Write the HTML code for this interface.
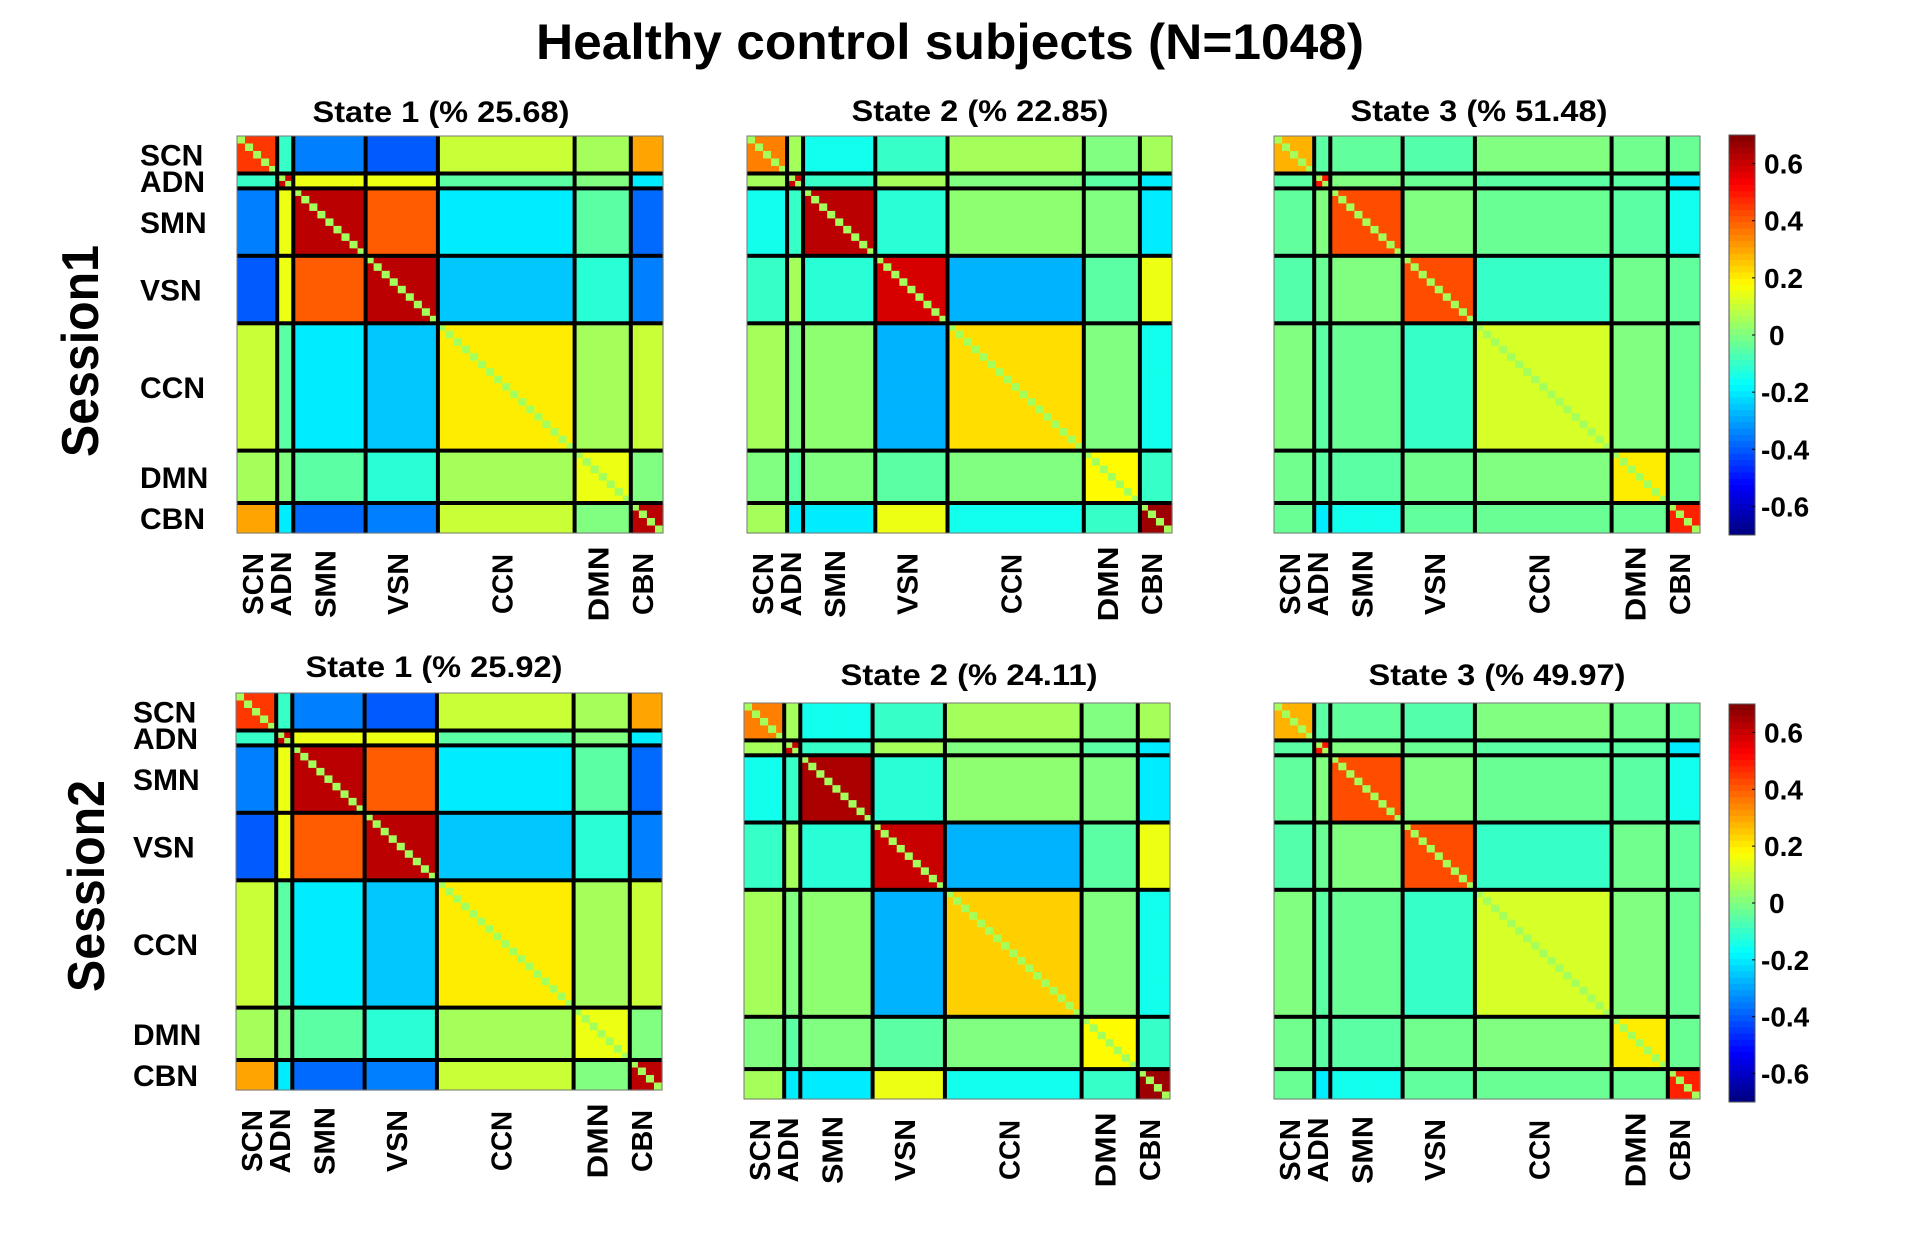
<!DOCTYPE html>
<html><head><meta charset="utf-8"><style>
html,body{margin:0;padding:0;background:#fff;}
svg{display:block;}
text{font-family:"Liberation Sans",sans-serif;font-weight:bold;fill:#000;}
</style></head><body>
<svg id="fig" width="1920" height="1248" viewBox="0 0 1920 1248" xmlns="http://www.w3.org/2000/svg">
<text x="950" y="59" font-size="50" text-anchor="middle" textLength="828" lengthAdjust="spacingAndGlyphs">Healthy control subjects (N=1048)</text>
<text transform="translate(98,351) rotate(-90)" font-size="52" text-anchor="middle" textLength="212" lengthAdjust="spacingAndGlyphs">Session1</text>
<text transform="translate(104,886) rotate(-90)" font-size="52" text-anchor="middle" textLength="212" lengthAdjust="spacingAndGlyphs">Session2</text>
</svg>
<script>
// ---- data ----
const networks = ["SCN","ADN","SMN","VSN","CCN","DMN","CBN"];
const networkSizes = [5,2,9,9,17,7,4];
const panelTitles = ["State 1 (% 25.68)","State 2 (% 22.85)","State 3 (% 51.48)","State 1 (% 25.92)","State 2 (% 24.11)","State 3 (% 49.97)"];
const colorbarTicks = [0.6,0.4,0.2,0,-0.2,-0.4,-0.6];
const colorRange = [-0.7,0.7];
// block-mean connectivity, upper triangle row-wise (SCN..CBN)
const s1State1 = [0.45,-0.1,-0.35,-0.4,0.1,0.05,0.3, 0.6,0.15,0.15,-0.05,0.0,-0.2, 0.62,0.4,-0.2,-0.05,-0.38, 0.62,-0.25,-0.12,-0.35, 0.2,0.05,0.1, 0.15,0.0, 0.62];
const s1State2 = [0.35,0.05,-0.15,-0.1,0.05,0.0,0.05, 0.6,-0.1,0.05,0.0,-0.05,-0.2, 0.62,-0.12,0.02,0.0,-0.2, 0.58,-0.28,-0.05,0.15, 0.22,0.0,-0.15, 0.18,-0.1, 0.66];
const s1State3 = [0.28,-0.05,-0.04,-0.06,0.0,-0.02,-0.03, 0.5,0.0,-0.03,-0.05,-0.05,-0.2, 0.42,0.0,-0.03,-0.05,-0.15, 0.42,-0.1,-0.02,-0.04, 0.12,0.0,-0.03, 0.2,-0.03, 0.48];
const s2State1 = [0.45,-0.1,-0.35,-0.4,0.1,0.05,0.3, 0.6,0.15,0.15,-0.05,0.0,-0.2, 0.62,0.4,-0.2,-0.05,-0.38, 0.62,-0.25,-0.12,-0.35, 0.2,0.05,0.1, 0.15,0.0, 0.62];
const s2State2 = [0.35,0.05,-0.15,-0.1,0.05,0.0,0.05, 0.6,-0.1,0.05,0.0,-0.05,-0.2, 0.64,-0.12,0.02,0.0,-0.2, 0.6,-0.28,-0.05,0.15, 0.24,0.0,-0.15, 0.18,-0.1, 0.66];
const s2State3 = [0.28,-0.05,-0.04,-0.06,0.0,-0.02,-0.03, 0.5,0.0,-0.03,-0.05,-0.05,-0.2, 0.42,0.0,-0.03,-0.05,-0.15, 0.42,-0.1,-0.02,-0.04, 0.12,0.0,-0.03, 0.2,-0.03, 0.48];
const diagValue = 0.05;
const panelData = [s1State1,s1State2,s1State3,s2State1,s2State2,s2State3];

// ---- layout ----
const panels = [
 {x:237,y:136,w:426,h:397,tx:441,ty:122,row:0},
 {x:747,y:136,w:425,h:397,tx:980,ty:121,row:0},
 {x:1274,y:136,w:426,h:397,tx:1479,ty:121,row:0},
 {x:236,y:693,w:426,h:397,tx:434,ty:677,row:1},
 {x:744,y:703,w:426,h:396,tx:969,ty:685,row:1},
 {x:1274,y:703,w:426,h:396,tx:1497,ty:685,row:1}
];
const colorbars = [{x:1729,y:135,w:26,h:400},{x:1729,y:704,w:26,h:398}];
const rowLabelX = [140,133];
const bottomLabelLen = [62,65,68,62,60,75,62];

const NS="http://www.w3.org/2000/svg";
const svg=document.getElementById('fig');
function mk(t,a){const e=document.createElementNS(NS,t);for(const k in a)e.setAttribute(k,a[k]);return e;}
function jet(v){
  let t=(v-colorRange[0])/(colorRange[1]-colorRange[0]);t=Math.max(0,Math.min(1,t));
  const r=Math.max(0,Math.min(1,1.5-Math.abs(4*t-3)));
  const g=Math.max(0,Math.min(1,1.5-Math.abs(4*t-2)));
  const b=Math.max(0,Math.min(1,1.5-Math.abs(4*t-1)));
  return `rgb(${Math.round(r*255)},${Math.round(g*255)},${Math.round(b*255)})`;
}
const N=networkSizes.reduce((a,b)=>a+b,0);
const starts=[];{let s=0;for(const n of networkSizes){starts.push(s);s+=n;}}
const netOf=[];networkSizes.forEach((n,k)=>{for(let i=0;i<n;i++)netOf.push(k);});
function blockVal(arr,a,b){if(a>b){const t=a;a=b;b=t;}const K=networks.length;let idx=0;for(let i=0;i<a;i++)idx+=K-i;return arr[idx+(b-a)];}

panels.forEach((p,pi)=>{
  const g=mk('g',{});
  
  
  svg.appendChild(g);
  const sx=i=>p.x+i*p.w/N, sy=j=>p.y+j*p.h/N;
  const arr=panelData[pi];
  for(let i=0;i<N;i++)for(let j=0;j<N;j++){
    const v=(i===j)?diagValue:blockVal(arr,netOf[i],netOf[j]);
    const r=mk('rect',{x:sx(j).toFixed(2),y:sy(i).toFixed(2),width:(p.w/N+0.6).toFixed(2),height:(p.h/N+0.6).toFixed(2),fill:jet(v)});
    
    
    g.appendChild(r);
  }
  for(let k=1;k<networks.length;k++){
    const c=starts[k];
    const lv=mk('rect',{x:(sx(c)-2).toFixed(1),y:p.y,width:4,height:p.h,fill:'#000'});
    
    
    g.appendChild(lv);
    const lh=mk('rect',{x:p.x,y:(sy(c)-2).toFixed(1),width:p.w,height:4,fill:'#000'});
    
    
    g.appendChild(lh);
  }
  const bd=mk('rect',{x:p.x,y:p.y,width:p.w,height:p.h,fill:'none',stroke:'#777','stroke-width':1});
  
  
  g.appendChild(bd);
  const t=mk('text',{x:p.tx,y:p.ty,'font-size':30,'text-anchor':'middle',textLength:257,lengthAdjust:'spacingAndGlyphs'});
  t.textContent=panelTitles[pi];
  
  
  svg.appendChild(t);
  networks.forEach((nm,k)=>{
    const c=starts[k]+networkSizes[k]/2;
    if(pi%3===0){
      const rl=mk('text',{x:rowLabelX[p.row],y:(sy(c)+11).toFixed(1),'font-size':30});
      rl.textContent=nm;
      
      
      svg.appendChild(rl);
    }
    const cx=sx(c)-4+10, cy=p.y+p.h+51;
    const bl=mk('text',{transform:`translate(${cx.toFixed(1)},${cy}) rotate(-90)`,'font-size':29,'text-anchor':'middle',textLength:bottomLabelLen[k],lengthAdjust:'spacingAndGlyphs'});
    bl.textContent=nm;
    
    
    svg.appendChild(bl);
  });
});

colorbars.forEach((cb,ci)=>{
  const g=mk('g',{});
  
  
  svg.appendChild(g);
  const steps=64;
  const vy=v=>cb.y+cb.h*(colorRange[1]-v)/(colorRange[1]-colorRange[0]);
  for(let s=0;s<steps;s++){
    const v1=colorRange[1]-s*(colorRange[1]-colorRange[0])/steps;
    const v2=v1-(colorRange[1]-colorRange[0])/steps;
    const r=mk('rect',{x:cb.x,y:vy(v1).toFixed(2),width:cb.w,height:(vy(v2)-vy(v1)+0.5).toFixed(2),fill:jet((v1+v2)/2)});
    
    
    g.appendChild(r);
  }
  const bd=mk('rect',{x:cb.x,y:cb.y,width:cb.w,height:cb.h,fill:'none',stroke:'#555','stroke-width':1});
  
  
  g.appendChild(bd);
  colorbarTicks.forEach(v=>{
    const tk=mk('line',{x1:cb.x+cb.w-3,x2:cb.x+cb.w,y1:vy(v),y2:vy(v),stroke:'#000','stroke-width':1});
    
    
    g.appendChild(tk);
    const t=mk('text',{x:cb.x+cb.w+(v<0?6:(v===0?14:9)),y:(vy(v)+10).toFixed(1),'font-size':28});
    t.textContent=String(v);
    
    
    g.appendChild(t);
  });
});
</script>
</body></html>
